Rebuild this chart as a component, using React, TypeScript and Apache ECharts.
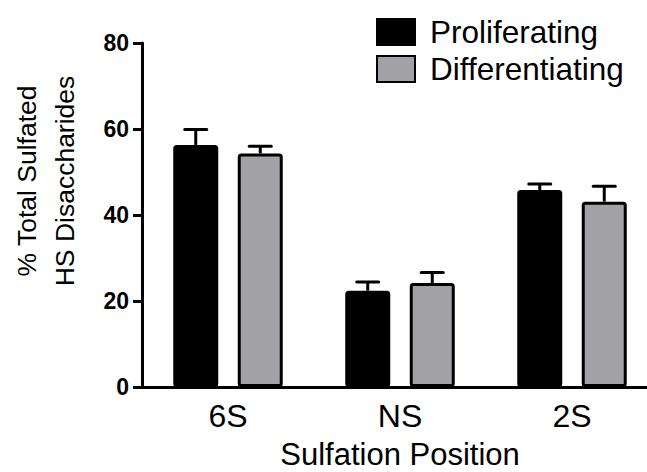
import React, { useEffect, useRef } from "react";
import * as echarts from "echarts";

const categories = ["6S", "NS", "2S"];
const proliferating = [56.3, 22.4, 45.8];
const proliferatingErr = [3.6, 2.0, 1.4];
const differentiating = [54.3, 24.2, 43.1];
const differentiatingErr = [1.7, 2.4, 3.6];
const yTicks = { min: 0, max: 80, interval: 20 };

const FONT = "'Liberation Sans', Arial, Helvetica, sans-serif";
const BAR_W = 45;
const BAR_GAP_PX = 19.5;
const OFFSET = (BAR_W + BAR_GAP_PX) / 2;

function errorSeries(values: number[], errs: number[], dir: number) {
  return {
    type: "custom",
    z: 5,
    silent: true,
    data: values.map((v, i) => [i, v, errs[i]]),
    encode: { x: 0, y: 1 },
    renderItem: (_params: any, api: any) => {
      const idx = api.value(0);
      const v = api.value(1);
      const e = api.value(2);
      const base = api.coord([idx, v]);
      const top = api.coord([idx, v + e]);
      const x = base[0] + dir * OFFSET;
      return {
        type: "group",
        children: [
          {
            type: "line",
            shape: { x1: x, y1: base[1], x2: x, y2: top[1] },
            style: { stroke: "#000", lineWidth: 3 },
          },
          {
            type: "line",
            shape: { x1: x - 11, y1: top[1], x2: x + 11, y2: top[1] },
            style: { stroke: "#000", lineWidth: 3, lineCap: "round" },
          },
        ],
      };
    },
  };
}

export default function App() {
  const ref = useRef<HTMLDivElement>(null);
  useEffect(() => {
    if (!ref.current) return;
    document.body.style.margin = "0";
    document.body.style.overflow = "hidden";
    const chart = echarts.init(ref.current, null, { renderer: "svg" });
    chart.setOption({
      animation: false,
      backgroundColor: "#fff",
      textStyle: { fontFamily: FONT },
      grid: {
        left: 142,
        top: 43,
        width: 516,
        height: 344,
        containLabel: false,
        outerBoundsMode: "none",
      },
      legend: {
        data: ["Proliferating", "Differentiating"],
        orient: "vertical",
        left: 371,
        top: 11,
        itemWidth: 38,
        itemHeight: 26,
        itemGap: 5,
        icon: "rect",
        textStyle: { fontSize: 31.5, color: "#000", fontFamily: FONT, padding: [0, 0, 0, 10] },
      },
      xAxis: {
        type: "category",
        data: categories,
        axisLine: { lineStyle: { color: "#000", width: 3 } },
        axisTick: { alignWithLabel: true, length: 10, lineStyle: { color: "#000", width: 3 } },
        axisLabel: { fontSize: 32, color: "#000", margin: 13, fontFamily: FONT },
        name: "Sulfation Position",
        nameLocation: "middle",
        nameGap: 54,
        nameTextStyle: { fontSize: 31, lineHeight: 26, color: "#000", fontFamily: FONT },
      },
      yAxis: {
        type: "value",
        min: yTicks.min,
        max: yTicks.max,
        interval: yTicks.interval,
        axisLine: { show: true, lineStyle: { color: "#000", width: 3 } },
        axisTick: { show: true, length: 9, lineStyle: { color: "#000", width: 3 } },
        axisLabel: { fontSize: 23, fontWeight: "bold", color: "#000", margin: 13, fontFamily: FONT },
        splitLine: { show: false },
      },
      graphic: [
        {
          type: "text",
          x: 46,
          y: 181,
          rotation: Math.PI / 2,
          style: {
            text: "% Total Sulfated\nHS Disaccharides",
            fontSize: 26.5,
            lineHeight: 38,
            fontFamily: FONT,
            fill: "#000",
            align: "center",
            verticalAlign: "middle",
          },
        },
      ],
      series: [
        {
          name: "Proliferating",
          type: "bar",
          data: proliferating,
          barWidth: BAR_W,
          barGap: `${(BAR_GAP_PX / BAR_W) * 100}%`,
          itemStyle: { color: "#000", borderColor: "#000", borderWidth: 3, borderRadius: 2 },
        },
        {
          name: "Differentiating",
          type: "bar",
          data: differentiating,
          barWidth: BAR_W,
          barGap: `${(BAR_GAP_PX / BAR_W) * 100}%`,
          itemStyle: { color: "#a2a1a6", borderColor: "#000", borderWidth: 3, borderRadius: 2 },
        },
        errorSeries(proliferating, proliferatingErr, -1),
        errorSeries(differentiating, differentiatingErr, 1),
      ],
    });
    return () => chart.dispose();
  }, []);
  return (
    <div
      ref={ref}
      style={{
        position: "fixed",
        left: 0,
        top: 0,
        width: 647,
        height: 472,
        overflow: "hidden",
        background: "#fff",
      }}
    />
  );
}
